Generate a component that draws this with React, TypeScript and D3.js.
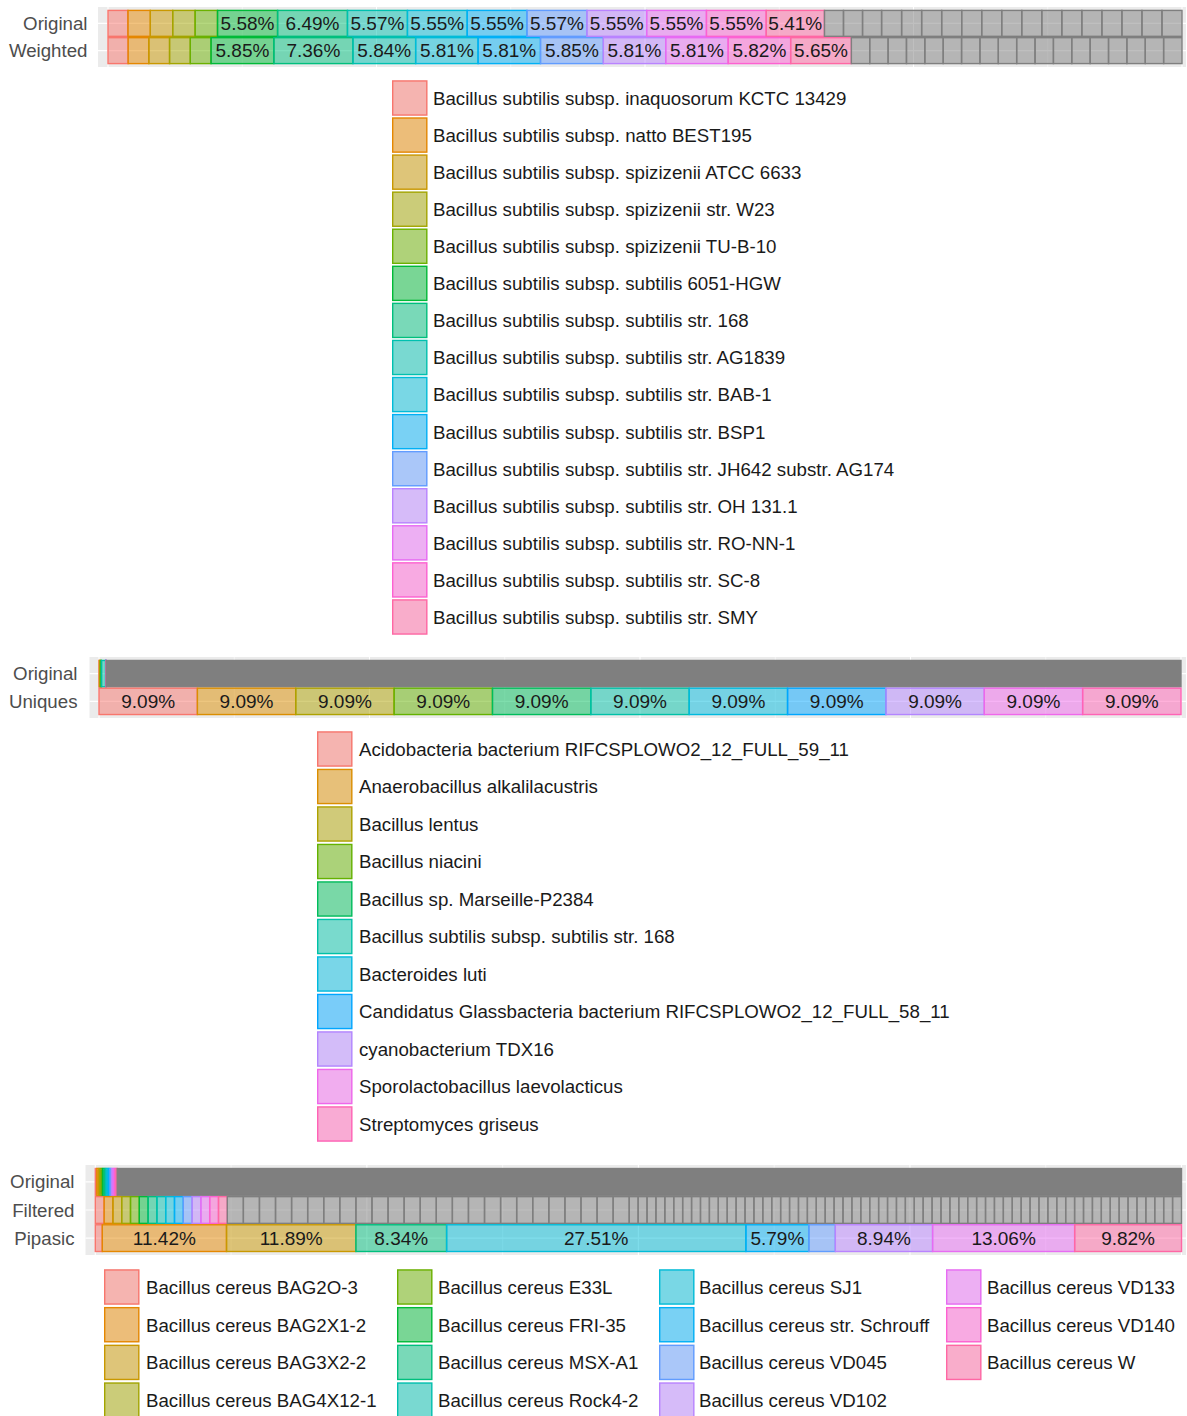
import React from "react";
import * as d3 from "d3";

// ---------- DATA ----------
const pal15 = ["#F8766D", "#E58700", "#C99800", "#A3A500", "#6BB100", "#00BA38", "#00BF7D", "#00C0AF", "#00BCD8", "#00B0F6", "#619CFF", "#B983FF", "#E76BF3", "#FD61D1", "#FF67A4"];
const pal11 = ["#F8766D", "#DB8E00", "#AEA200", "#64B200", "#00BD5C", "#00C1A7", "#00BADE", "#00A6FF", "#B385FF", "#EF67EB", "#FF63B6"];

const species1 = [
  "Bacillus subtilis subsp. inaquosorum KCTC 13429",
  "Bacillus subtilis subsp. natto BEST195",
  "Bacillus subtilis subsp. spizizenii ATCC 6633",
  "Bacillus subtilis subsp. spizizenii str. W23",
  "Bacillus subtilis subsp. spizizenii TU-B-10",
  "Bacillus subtilis subsp. subtilis 6051-HGW",
  "Bacillus subtilis subsp. subtilis str. 168",
  "Bacillus subtilis subsp. subtilis str. AG1839",
  "Bacillus subtilis subsp. subtilis str. BAB-1",
  "Bacillus subtilis subsp. subtilis str. BSP1",
  "Bacillus subtilis subsp. subtilis str. JH642 substr. AG174",
  "Bacillus subtilis subsp. subtilis str. OH 131.1",
  "Bacillus subtilis subsp. subtilis str. RO-NN-1",
  "Bacillus subtilis subsp. subtilis str. SC-8",
  "Bacillus subtilis subsp. subtilis str. SMY",
];
const rows1 = ["Original", "Weighted"];
const p1Original = [1.85, 2.08, 2.08, 2.08, 2.08, 5.58, 6.49, 5.57, 5.55, 5.55, 5.57, 5.55, 5.55, 5.55, 5.41];
const p1OriginalOther = [1.77, 1.77, 1.77, 1.86, 1.86, 1.86, 1.86, 1.86, 1.86, 1.86, 1.86, 1.86, 1.86, 1.86, 1.86, 1.86, 1.86, 1.86];
const p1Weighted = [1.87, 1.93, 1.93, 1.93, 1.93, 5.85, 7.36, 5.84, 5.81, 5.81, 5.85, 5.81, 5.81, 5.82, 5.65];
const p1WeightedOther = [1.71, 1.71, 1.71, 1.71, 1.71, 1.71, 1.71, 1.71, 1.71, 1.71, 1.71, 1.71, 1.71, 1.71, 1.71, 1.71, 1.71, 1.71];

const species2 = [
  "Acidobacteria bacterium RIFCSPLOWO2_12_FULL_59_11",
  "Anaerobacillus alkalilacustris",
  "Bacillus lentus",
  "Bacillus niacini",
  "Bacillus sp. Marseille-P2384",
  "Bacillus subtilis subsp. subtilis str. 168",
  "Bacteroides luti",
  "Candidatus Glassbacteria bacterium RIFCSPLOWO2_12_FULL_58_11",
  "cyanobacterium TDX16",
  "Sporolactobacillus laevolacticus",
  "Streptomyces griseus",
];
const rows2 = ["Original", "Uniques"];
const p2Original = [0.03, 0.06, 0.04, 0.08, 0.02, 0.38, 0.01, 0.01, 0.01, 0.01, 0.01];
const p2OriginalOther = [99.34];
const p2Uniques = [9.09, 9.09, 9.09, 9.09, 9.09, 9.09, 9.09, 9.09, 9.09, 9.09, 9.09];
const p2UniquesOther: number[] = [];

const species3 = [
  "Bacillus cereus BAG2O-3",
  "Bacillus cereus BAG2X1-2",
  "Bacillus cereus BAG3X2-2",
  "Bacillus cereus BAG4X12-1",
  "Bacillus cereus E33L",
  "Bacillus cereus FRI-35",
  "Bacillus cereus MSX-A1",
  "Bacillus cereus Rock4-2",
  "Bacillus cereus SJ1",
  "Bacillus cereus str. Schrouff",
  "Bacillus cereus VD045",
  "Bacillus cereus VD102",
  "Bacillus cereus VD133",
  "Bacillus cereus VD140",
  "Bacillus cereus W",
];
const rows3 = ["Original", "Filtered", "Pipasic"];
const p3Original = [0.14, 0.14, 0.13, 0.13, 0.13, 0.14, 0.14, 0.13, 0.14, 0.14, 0.13, 0.14, 0.14, 0.13, 0.12];
const p3OriginalOther = [97.97];
const p3Filtered = [0.81, 0.81, 0.81, 0.81, 0.81, 0.81, 0.81, 0.81, 0.81, 0.81, 0.81, 0.81, 0.81, 0.81, 0.81];
const p3FilteredOther = [
  1.48, 1.48, 1.48, 1.48, 1.48, 1.48, 1.48, 1.48, 1.48, 1.48, 1.48, 1.48, 1.48, 1.48, 1.48, 1.48, 1.48, 1.48, 1.48, 1.48, 1.48, 1.48, 1.48, 1.48, 1.48,
  0.82, 0.82, 0.82, 0.82, 0.82, 0.82, 0.82, 0.82, 0.82, 0.82, 0.82, 0.82, 0.82, 0.82, 0.82, 0.82, 0.82, 0.82, 0.82, 0.82, 0.82, 0.82, 0.82, 0.82, 0.82, 0.82, 0.82, 0.82, 0.82, 0.82, 0.82,
  0.82, 0.82, 0.82, 0.82, 0.82, 0.82, 0.82, 0.82, 0.82, 0.82, 0.82, 0.82, 0.82, 0.82, 0.82, 0.82, 0.82, 0.82, 0.82, 0.82, 0.82, 0.82, 0.82, 0.82, 0.82, 0.82, 0.82, 0.82, 0.82, 0.82, 0.82,
];
const p3Pipasic = [0.64, 11.42, 11.89, 0, 0, 0, 8.34, 0, 27.51, 5.79, 2.43, 8.94, 13.06, 0, 9.82];
const p3PipasicOther: number[] = [];

// ---------- LAYOUT / STYLE ----------
const FONT = "'Liberation Sans', Arial, Helvetica, sans-serif";
const PANEL_BG = "#EBEBEB";
const GREY = "#7F7F7F";

type RowDef = { name: string; values: number[]; other: number[]; dense: boolean };

type PanelDef = {
  top: number; bottom: number; left: number; right: number;
  barLeft: number; barRight: number; labelX: number;
  palette: string[]; rows: RowDef[];
};

const panels: PanelDef[] = [
  {
    top: 7, bottom: 67, left: 98, right: 1186, barLeft: 108, barRight: 1182, labelX: 87.5,
    palette: pal15,
    rows: [
      { name: rows1[0], values: p1Original, other: p1OriginalOther, dense: false },
      { name: rows1[1], values: p1Weighted, other: p1WeightedOther, dense: false },
    ],
  },
  {
    top: 657, bottom: 718, left: 89.5, right: 1186, barLeft: 99, barRight: 1181, labelX: 77.5,
    palette: pal11,
    rows: [
      { name: rows2[0], values: p2Original, other: p2OriginalOther, dense: true },
      { name: rows2[1], values: p2Uniques, other: p2UniquesOther, dense: false },
    ],
  },
  {
    top: 1165, bottom: 1255, left: 85.5, right: 1186, barLeft: 95.3, barRight: 1181.5, labelX: 74.5,
    palette: pal15,
    rows: [
      { name: rows3[0], values: p3Original, other: p3OriginalOther, dense: true },
      { name: rows3[1], values: p3Filtered, other: p3FilteredOther, dense: false },
      { name: rows3[2], values: p3Pipasic, other: p3PipasicOther, dense: false },
    ],
  },
];

type LegendDef = {
  labels: string[]; palette: string[];
  cols: { keyX: number; textX: number }[];
  perCol: number; firstY: number; step: number;
};

const legends: LegendDef[] = [
  { labels: species1, palette: pal15, cols: [{ keyX: 392, textX: 433 }], perCol: 15, firstY: 98, step: 37.07 },
  { labels: species2, palette: pal11, cols: [{ keyX: 317, textX: 359 }], perCol: 11, firstY: 749, step: 37.5 },
  {
    labels: species3, palette: pal15,
    cols: [{ keyX: 104, textX: 146 }, { keyX: 397, textX: 438 }, { keyX: 659, textX: 699 }, { keyX: 946, textX: 987 }],
    perCol: 4, firstY: 1287, step: 37.7,
  },
];

function Panel({ p }: { p: PanelDef }) {
  const x = d3.scaleLinear().domain([0, 1]).range([p.barLeft, p.barRight]);
  const y = d3.scalePoint<string>().domain(p.rows.map((r) => r.name)).range([p.top, p.bottom]).padding(0.6);
  const unit = y.step();
  const barH = unit * 0.95;
  const majors = [0, 0.25, 0.5, 0.75, 1];
  const minors = [0.125, 0.375, 0.625, 0.875];

  return (
    <g>
      <rect x={p.left} y={p.top} width={p.right - p.left} height={p.bottom - p.top} fill={PANEL_BG} />
      {minors.map((m) => (
        <line key={"mi" + m} x1={x(m)} x2={x(m)} y1={p.top} y2={p.bottom} stroke="#fff" strokeWidth={0.55} />
      ))}
      {majors.map((m) => (
        <line key={"ma" + m} x1={x(m)} x2={x(m)} y1={p.top} y2={p.bottom} stroke="#fff" strokeWidth={1.1} />
      ))}
      {p.rows.map((r) => (
        <line key={"h" + r.name} x1={p.left} x2={p.right} y1={y(r.name)} y2={y(r.name)} stroke="#fff" strokeWidth={1.1} />
      ))}
      {p.rows.map((r) => {
        const segs = [
          ...r.values.map((v, i) => ({ v, color: p.palette[i] as string | null })),
          ...r.other.map((v) => ({ v, color: null as string | null })),
        ].filter((s) => s.v > 0);
        const total = d3.sum(segs, (s) => s.v);
        let acc = 0;
        const cy = y(r.name) as number;
        return (
          <g key={r.name}>
            {segs.map((s, i) => {
              const x0 = x(acc / total);
              acc += s.v;
              const x1 = x(acc / total);
              const isOther = s.color === null;
              const stroke = isOther ? GREY : (s.color as string);
              const fill = isOther ? GREY : (s.color as string);
              const fo = isOther && r.dense ? 1 : 0.5;
              return (
                <rect key={i} x={x0} y={cy - barH / 2} width={Math.max(0, x1 - x0)} height={barH}
                  fill={fill} fillOpacity={fo} stroke={stroke} strokeWidth={1.4} />
              );
            })}
            {(() => {
              let a = 0;
              return segs.map((s, i) => {
                const x0 = x(a / total);
                a += s.v;
                const x1 = x(a / total);
                if (s.color === null || s.v < 5) return null;
                return (
                  <text key={"t" + i} x={(x0 + x1) / 2} y={cy} dy="0.35em" textAnchor="middle"
                    fontFamily={FONT} fontSize={19} fill="#1A1A1A">
                    {s.v.toFixed(2) + "%"}
                  </text>
                );
              });
            })()}
            <text x={p.labelX} y={cy} dy="0.35em" textAnchor="end" fontFamily={FONT} fontSize={18.7} fill="#4D4D4D">
              {r.name}
            </text>
          </g>
        );
      })}
    </g>
  );
}

function Legend({ l }: { l: LegendDef }) {
  const ks = 35.5;
  return (
    <g>
      {l.labels.map((lab, i) => {
        const col = l.cols[Math.floor(i / l.perCol)];
        const row = i % l.perCol;
        const cy = l.firstY + row * l.step;
        return (
          <g key={lab}>
            <rect x={col.keyX} y={cy - ks / 2} width={ks} height={ks} fill="#F2F2F2" />
            <rect x={col.keyX + 0.7} y={cy - ks / 2 + 0.7} width={ks - 1.4} height={ks - 1.4}
              fill={l.palette[i]} fillOpacity={0.5} stroke={l.palette[i]} strokeWidth={1.4} />
            <text x={col.textX} y={cy} dy="0.37em" fontFamily={FONT} fontSize={18.7} fill="#1A1A1A">
              {lab}
            </text>
          </g>
        );
      })}
    </g>
  );
}

export default function App() {
  return (
    <div style={{ position: "absolute", left: 0, top: 0 }}>
      <svg width={1187} height={1416} style={{ display: "block", background: "#fff" }}>
        {panels.map((p, i) => (
          <Panel key={i} p={p} />
        ))}
        {legends.map((l, i) => (
          <Legend key={i} l={l} />
        ))}
      </svg>
    </div>
  );
}
